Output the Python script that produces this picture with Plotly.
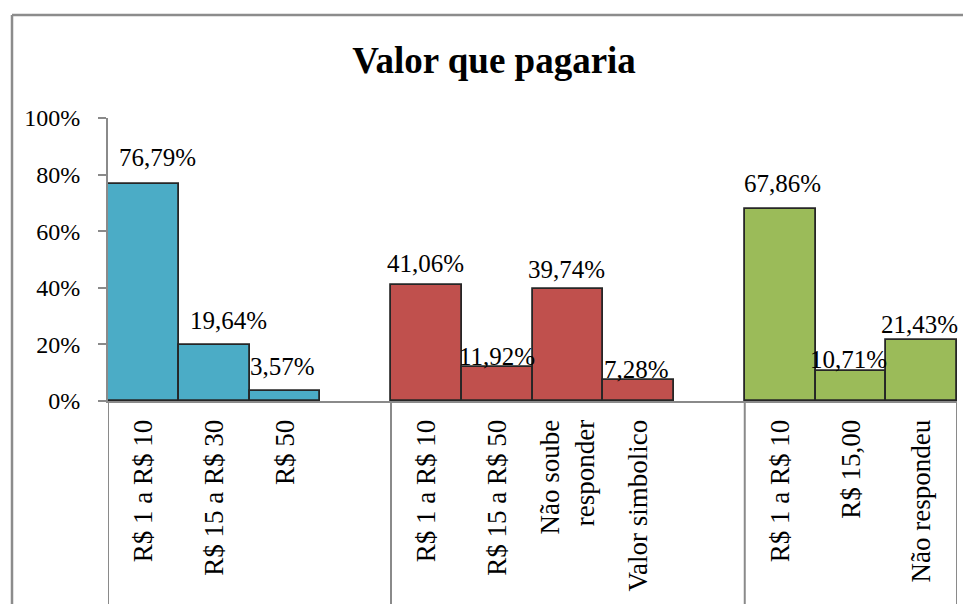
import plotly.graph_objects as go

# ---- data ----
title_text = "Valor que pagaria"
group1_labels = ["R$ 1 a R$ 10", "R$ 15 a R$ 30", "R$ 50"]
group1_values = [76.79, 19.64, 3.57]
group2_labels = ["R$ 1 a R$ 10", "R$ 15 a R$ 50", "Não soube<br>responder", "Valor simbolico"]
group2_values = [41.06, 11.92, 39.74, 7.28]
group3_labels = ["R$ 1 a R$ 10", "R$ 15,00", "Não respondeu"]
group3_values = [67.86, 10.71, 21.43]
y_ticks = [0, 20, 40, 60, 80, 100]

# ---- style ----
colors = ["#4BACC6", "#C0504D", "#9BBB59"]
label_dx = [[14, 14, -2], [-1, 0, -1, -2], [2, -2, -2]]
label_dy = [[26, 25, 24], [21, 11, 19.5, 11], [25, 10.7, 15.6]]
FONT = "Liberation Serif"
AXIS_COLOR = "#8a8a8a"

groups = [(group1_labels, group1_values), (group2_labels, group2_values), (group3_labels, group3_values)]

fig = go.Figure()
tickvals, ticktext, boundaries, annotations = [], [], [-0.5], []
pos = 0
for gi, (labels, values) in enumerate(groups):
    xs = list(range(pos, pos + len(values)))
    fig.add_trace(go.Bar(
        x=xs, y=[v / 100 for v in values], width=1,
        marker=dict(color=colors[gi], line=dict(color="#262626", width=1.8)),
        showlegend=False, hoverinfo="skip"))
    for k, (x, v) in enumerate(zip(xs, values)):
        annotations.append(dict(
            x=x, y=v / 100, xref="x", yref="y",
            text=f"{v:.2f}%".replace(".", ","), showarrow=False,
            xanchor="center", yanchor="middle",
            xshift=label_dx[gi][k], yshift=label_dy[gi][k],
            font=dict(family=FONT, size=25, color="black")))
    tickvals += xs
    ticktext += labels
    pos += len(values)
    if gi < len(groups) - 1:
        pos += 1  # empty slot after group
    boundaries.append(pos - 0.5)

shapes = []
for b in boundaries:
    shapes.append(dict(type="line", xref="x", yref="paper", x0=b, x1=b, y0=0, y1=-1.2,
                       line=dict(color=AXIS_COLOR, width=2)))
# chart area border (left and top)
shapes.append(dict(type="line", xref="paper", yref="paper", x0=-96 / 849, x1=-96 / 849, y0=-1.2, y1=1 + 103 / 283,
                   line=dict(color="#8c8c8c", width=2.5)))
shapes.append(dict(type="line", xref="paper", yref="paper", x0=-96 / 849, x1=1.2, y0=1 + 103 / 283, y1=1 + 103 / 283,
                   line=dict(color="#8c8c8c", width=2.5)))

fig.update_layout(
    width=963, height=604,
    margin=dict(l=108, r=6, t=118, b=203, autoexpand=False),
    paper_bgcolor="white", plot_bgcolor="white",
    title=dict(text=f"<b>{title_text}</b>", x=494 / 963, xref="container", xanchor="center",
               y=1 - 60 / 604, yref="container", yanchor="middle",
               font=dict(family=FONT, size=37, color="black")),
    bargap=0,
    xaxis=dict(range=[-0.5, pos - 0.5], tickmode="array", tickvals=tickvals, ticktext=ticktext,
               tickangle=-90, ticks="", showgrid=False, zeroline=False,
               showline=True, linecolor=AXIS_COLOR, linewidth=2,
               ticklabelstandoff=6,
               tickfont=dict(family=FONT, size=27, color="black")),
    yaxis=dict(range=[0, 1], tickmode="array", tickvals=[t / 100 for t in y_ticks],
               ticktext=[f"{t}%" for t in y_ticks],
               ticks="outside", ticklen=8, tickcolor=AXIS_COLOR, tickwidth=2,
               showgrid=False, zeroline=False, showline=True, linecolor=AXIS_COLOR, linewidth=2,
               ticklabelstandoff=13,
               tickfont=dict(family=FONT, size=24, color="black")),
    annotations=annotations,
    shapes=shapes,
)

fig.write_html("out.html", config={"displayModeBar": False},
               post_script="document.body.style.margin='0px';")
